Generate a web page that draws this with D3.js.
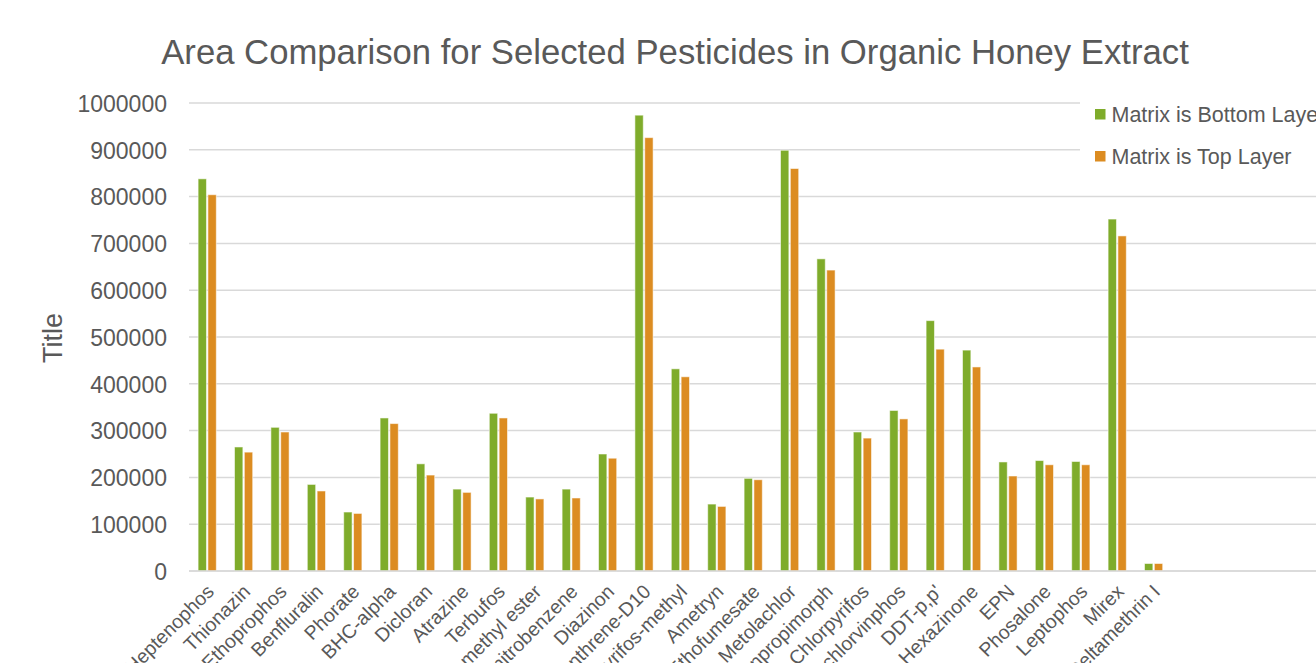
<!DOCTYPE html>
<html>
<head>
<meta charset="utf-8">
<script src="https://cdn.jsdelivr.net/npm/d3@7"></script>
<style>
  body { margin: 0; background: #fff; overflow: hidden; }
  svg { display: block; font-family: "Liberation Sans", Arial, sans-serif; }
</style>
</head>
<body>
<svg class="chart"></svg>
<script>
const categories = ["Heptenophos", "Thionazin", "Ethoprophos", "Benfluralin", "Phorate", "BHC-alpha", "Dicloran", "Atrazine", "Terbufos", "2,4-D methyl ester", "Pentachloronitrobenzene", "Diazinon", "Phenanthrene-D10", "Chlorpyrifos-methyl", "Ametryn", "Ethofumesate", "Metolachlor", "Fenpropimorph", "Chlorpyrifos", "Tetrachlorvinphos", "DDT-p,p'", "Hexazinone", "EPN", "Phosalone", "Leptophos", "Mirex", "Deltamethrin I"];
const seriesNames = ["Matrix is Bottom Layer", "Matrix is Top Layer"];
const bottomLayer = [838000, 265000, 307000, 185000, 126000, 327000, 229000, 175000, 337000, 158000, 175000, 250000, 974000, 432000, 143000, 198000, 899000, 667000, 297000, 343000, 535000, 472000, 233000, 236000, 234000, 752000, 16000];
const topLayer = [804000, 254000, 297000, 171000, 123000, 315000, 205000, 168000, 327000, 154000, 156000, 241000, 926000, 415000, 138000, 195000, 860000, 643000, 284000, 325000, 474000, 436000, 203000, 227000, 227000, 716000, 16000];
const yTicks = [0, 100000, 200000, 300000, 400000, 500000, 600000, 700000, 800000, 900000, 1000000];
const colors = ["#7fac2b", "#dc8c21"];

const width = 1316, height = 663;
const plotLeft = 189, plotTop = 103, plotBottom = 571, step = 36.4;

const svg = d3.select(".chart").attr("width", width).attr("height", height);

const x0 = d3.scaleBand().domain(categories).range([plotLeft, plotLeft + categories.length * step]).paddingInner(0.5).paddingOuter(0.25);
const x1 = d3.scaleBand().domain(seriesNames).range([0, x0.bandwidth()]).paddingInner(0.15);
const y = d3.scaleLinear().domain([0, 1000000]).range([plotBottom, plotTop]);

// gridlines
svg.append("g").selectAll("line").data(yTicks).join("line")
  .attr("x1", plotLeft).attr("x2", width)
  .attr("y1", d => y(d)).attr("y2", d => y(d))
  .attr("stroke", "#d9d9d9").attr("stroke-width", 1.5);

// y axis labels
const yAxis = svg.append("g").attr("transform", `translate(${plotLeft},0)`)
  .call(d3.axisLeft(y).tickValues(yTicks).tickSize(0).tickPadding(22).tickFormat(d3.format("d")));
yAxis.select(".domain").remove();
yAxis.selectAll("text").attr("fill", "#595959").style("font-size", "23px").attr("dy", "0.36em");

// bars
const data = categories.map((c, i) => ({ c, vals: [bottomLayer[i], topLayer[i]] }));
const groups = svg.append("g").selectAll("g").data(data).join("g")
  .attr("transform", d => `translate(${x0(d.c)},0)`);
groups.selectAll("rect").data(d => d.vals.map((v, k) => ({ v, k }))).join("rect")
  .attr("x", d => x1(seriesNames[d.k]))
  .attr("width", x1.bandwidth())
  .attr("y", d => y(d.v))
  .attr("height", d => y(0) - y(d.v))
  .attr("fill", d => colors[d.k])
  .attr("stroke", "rgba(255,255,255,0.55)").attr("stroke-width", 1);

// x axis labels (cut off at the bottom edge, as in the original)
const xAxis = svg.append("g").attr("transform", `translate(0,${plotBottom})`)
  .call(d3.axisBottom(x0).tickSize(0).tickPadding(0));
xAxis.select(".domain").remove();
xAxis.selectAll("text")
  .attr("fill", "#595959").style("font-size", "19.5px")
  .attr("text-anchor", "end")
  .attr("transform", "translate(3,17) rotate(-45)")
  .attr("dy", "0.35em").attr("y", 0).attr("x", 0);

svg.append("line").attr("x1", plotLeft).attr("x2", width).attr("y1", plotBottom).attr("y2", plotBottom)
  .attr("stroke", "#d9d9d9").attr("stroke-width", 1.5);

// title
svg.append("text").attr("x", 675).attr("y", 64).attr("text-anchor", "middle")
  .attr("fill", "#595959").style("font-size", "34.7px")
  .text("Area Comparison for Selected Pesticides in Organic Honey Extract");

// y axis title
svg.append("text").attr("transform", "translate(62,338) rotate(-90)").attr("text-anchor", "middle")
  .attr("fill", "#595959").style("font-size", "27px").text("Title");

// legend
const legend = svg.append("g").attr("transform", "translate(1080,90)");
legend.append("rect").attr("width", 240).attr("height", 90).attr("fill", "#fff");
const items = legend.selectAll("g.item").data(seriesNames).join("g").attr("class", "item")
  .attr("transform", (d, i) => `translate(0,${i * 42})`);
items.append("rect").attr("x", 15).attr("y", 19).attr("width", 10.5).attr("height", 10.5)
  .attr("fill", (d, i) => colors[i]);
items.append("text").attr("x", 31.5).attr("y", 31.7).attr("fill", "#595959")
  .style("font-size", "21.5px").text(d => d);
</script>
</body>
</html>
